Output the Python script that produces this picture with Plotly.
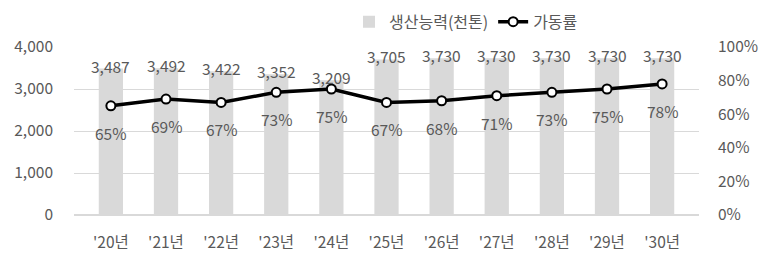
import plotly.graph_objects as go

years = ["'20년", "'21년", "'22년", "'23년", "'24년", "'25년", "'26년", "'27년", "'28년", "'29년", "'30년"]
capacity = [3487, 3492, 3422, 3352, 3209, 3705, 3730, 3730, 3730, 3730, 3730]
utilization = [65, 69, 67, 73, 75, 67, 68, 71, 73, 75, 78]

FONT = "Noto Sans CJK KR"
TXT = "#595959"

fig = go.Figure()
fig.add_trace(go.Bar(
    x=years, y=capacity, name="생산능력(천톤)",
    marker=dict(color="#d9d9d9", line=dict(width=0)),
    yaxis="y",
))
fig.add_trace(go.Scatter(
    x=years, y=utilization, name="가동률", mode="lines+markers",
    line=dict(color="black", width=3.5),
    marker=dict(symbol="circle", size=9, color="white", line=dict(color="black", width=2)),
    yaxis="y2",
))

annotations = []
for x, v in zip(years, capacity):
    annotations.append(dict(x=x, y=v, xref="x", yref="y", text=f"{v:,}", showarrow=False,
                            yshift=3, font=dict(family=FONT, size=15.5, color=TXT)))
for x, v in zip(years, utilization):
    annotations.append(dict(x=x, y=v, xref="x", yref="y2", text=f"{v}%", showarrow=False,
                            yshift=-27, font=dict(family=FONT, size=15.5, color=TXT)))

fig.update_layout(
    width=768, height=267,
    margin=dict(l=74, r=69, t=47, b=52, autoexpand=False),
    paper_bgcolor="white", plot_bgcolor="white",
    font=dict(family=FONT, size=15, color=TXT),
    bargap=0.56,
    showlegend=True,
    legend=dict(orientation="h", x=0.44, xanchor="left", y=1.15, yanchor="middle",
                font=dict(family=FONT, size=16, color=TXT), itemwidth=30,
                traceorder="normal"),
    xaxis=dict(showgrid=False, showline=False, ticks="", tickfont=dict(size=15.5, color=TXT),
               ticklabelstandoff=16),
    yaxis=dict(range=[0, 4000], dtick=1000, tickformat=",", showgrid=True, gridcolor="#d9d9d9",
               gridwidth=1, zeroline=True, zerolinecolor="#d9d9d9", zerolinewidth=1.5,
               ticks="", tickfont=dict(size=15.5, color=TXT), ticklabelstandoff=20),
    yaxis2=dict(range=[0, 100], dtick=20, ticksuffix="%", overlaying="y", side="right",
                showgrid=False, zeroline=False, ticks="", tickfont=dict(size=15.5, color=TXT),
                ticklabelstandoff=18),
    annotations=annotations,
)

fig.write_html("out.html")
